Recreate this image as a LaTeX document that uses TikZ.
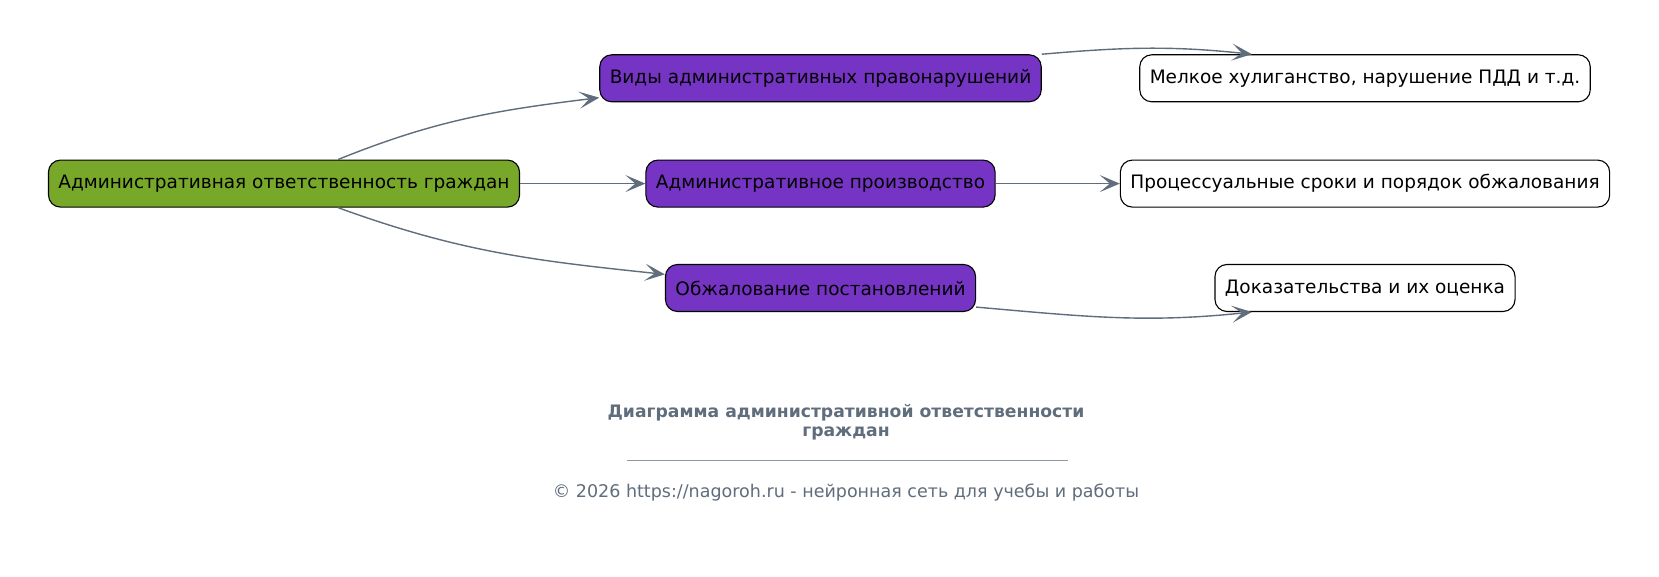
\documentclass[tikz,border=0pt]{standalone}
\usepackage{fontspec}
\setmainfont{DejaVu Sans}
\usepackage{xcolor}
\usetikzlibrary{arrows.meta}

\definecolor{linkgray}{HTML}{5F6D7C}
\definecolor{rootgreen}{HTML}{78A82A}
\definecolor{topicviolet}{HTML}{7634C4}

\tikzset{
  box/.style={draw=black, line width=1.1pt, rounded corners=12pt,
    minimum height=47pt, inner xsep=10pt, font=\fontsize{18.5}{22}\selectfont},
  rootbox/.style={box, fill=rootgreen},
  topicbox/.style={box, fill=topicviolet},
  leafbox/.style={box, fill=white},
  link/.style={draw=linkgray, line width=1.4pt,
    -{Stealth[length=20pt, width=17pt, inset=10pt, fill=linkgray]}}
}

\begin{document}
\begin{tikzpicture}[x=1pt, y=1pt]
\useasboundingbox[fill=white] (0,0) rectangle (1659,577);
% nodes
\node[rootbox]  (root) at (284,393.4)   {Административная ответственность граждан};
\node[topicbox] (vidy) at (820.5,498.7) {Виды административных правонарушений};
\node[topicbox] (proizv) at (820.5,393.4) {Административное производство};
\node[topicbox] (obzh) at (820.5,289)   {Обжалование постановлений};
\node[leafbox]  (melk) at (1365,498.7)  {Мелкое хулиганство, нарушение ПДД и т.д.};
\node[leafbox]  (proc) at (1365,393.4)  {Процессуальные сроки и порядок обжалования};
\node[leafbox]  (dok) at (1365,289)     {Доказательства и их оценка};
% links
\draw[link] (root.24) to[out=22, in=187] (vidy.185);
\draw[link] (root.east) -- (proizv.west);
\draw[link] (root.-24) to[out=-20, in=174] (obzh.175);
\draw[link] (vidy.north east) to[out=5, in=174] (melk.168);
\draw[link] (proizv.east) -- (proc.west);
\draw[link] (obzh.-7) to[out=-5, in=186] (dok.192);
% caption
\node[text=linkgray, font=\bfseries\fontsize{17.2}{19}\selectfont, align=center]
  (title) at (846,155) {Диаграмма административной ответственности\\граждан};
\draw[linkgray!70, line width=0.7pt] (627,117) -- (1067.5,117);
\node[text=linkgray, font=\fontsize{17.5}{20}\selectfont] (copy) at (846,84)
  {© 2026 https://nagoroh.ru - нейронная сеть для учебы и работы};
\end{tikzpicture}
\end{document}
